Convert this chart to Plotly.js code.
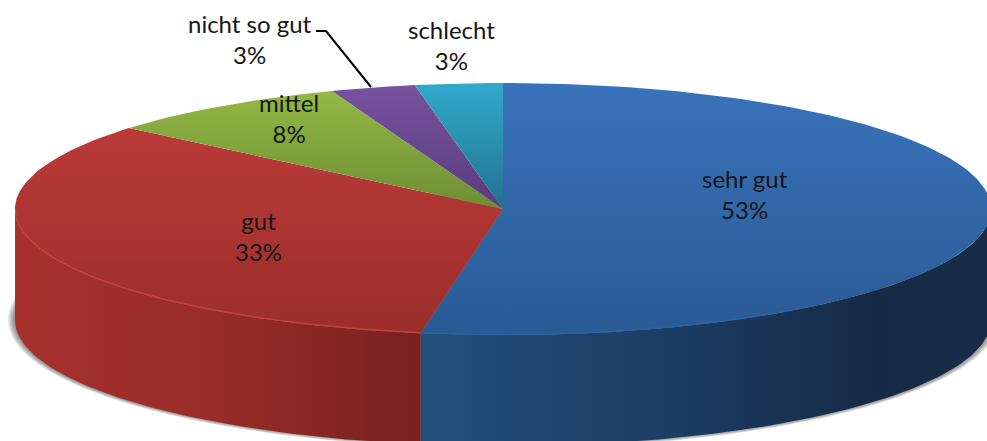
<!DOCTYPE html>
<html><head><meta charset="utf-8">
<script src="https://cdn.plot.ly/plotly-3.0.1.min.js"></script>
<style>html,body{margin:0;padding:0;background:#fff;overflow:hidden}#c{width:987px;height:441px}</style>
</head><body><div id="c"></div>
<script>
const categories = ['sehr gut','gut','mittel','nicht so gut','schlecht'];
const shares = [52.7, 33.4, 8.2, 2.8, 2.9];
const percentLabels = ['53%','33%','8%','3%','3%'];
const topLight = ['#3973bb','#ba3a38','#93b945','#7852a0','#31a9cb'];
const topDark  = ['#2a5a94','#9c2e2b','#6e8d34','#593c7c','#22728e'];
const sideScale = [
  [[0,'#234e7c'],[0.45,'#1c3c64'],[0.8,'#162a45'],[1,'#172c48']],
  [[0,'#a6312d'],[0.45,'#9a2d2a'],[0.78,'#862523'],[1,'#772220']]
];
const rimColors = ['#2c64a4','#c4423d'];
const labelX = [745,258,289,250,451];
const labelY = [194,236,118,39,45];

const cx = 503, cy = 209, rx = 488, ry = 126, depth = 111;
const px = t => cx + rx*Math.sin(t*Math.PI/180);
const py = t => cy - ry*Math.cos(t*Math.PI/180);
const arc = (a,b) => { const r=[]; const n=Math.max(2,Math.ceil(Math.abs(b-a)));
  for(let i=0;i<=n;i++) r.push(a+(b-a)*i/n); return r; };

const traces = [];
// soft shadow under the disc
for(let i=0;i<6;i++){
  const ts = arc(0,360);
  traces.push({x:ts.map(t=>cx+(rx+7-i*1.3)*Math.sin(t*Math.PI/180)),
    y:ts.map(t=>cy+depth+(ry+2.5-i*0.6)*(-Math.cos(t*Math.PI/180))),
    mode:'lines',fill:'toself',line:{width:0},fillcolor:'rgba(70,70,70,0.14)',hoverinfo:'skip'});
}
let start = 0; const sectors = [];
shares.forEach(s=>{ sectors.push([start,start+s*3.6]); start += s*3.6; });
// side walls (only the front half is visible)
sectors.forEach((sec,i)=>{
  const a=Math.max(sec[0],90), b=Math.min(sec[1],270);
  if(b<=a) return;
  const ts=arc(a,b), rev=ts.slice().reverse();
  traces.push({x:ts.map(px).concat(rev.map(px)),
    y:ts.map(py).concat(rev.map(t=>py(t)+depth)),
    mode:'lines',fill:'toself',line:{width:0},
    fillgradient:{type:'horizontal',colorscale:sideScale[i]},hoverinfo:'skip'});
});
// top faces
sectors.forEach((sec,i)=>{
  const ts=arc(sec[0],sec[1]);
  traces.push({x:[cx].concat(ts.map(px),[cx]),y:[cy].concat(ts.map(py),[cy]),
    mode:'lines',fill:'toself',line:{width:0},
    fillgradient:{type:'vertical',colorscale:[[0,topDark[i]],[1,topLight[i]]]},hoverinfo:'skip'});
});
// bevel highlight on the front rim
sectors.forEach((sec,i)=>{
  const a=Math.max(sec[0],i===0?140:90), b=Math.min(sec[1],268);
  if(b<=a) return;
  const ts=arc(a,b);
  traces.push({x:ts.map(px),y:ts.map(t=>py(t)-0.5),mode:'lines',
    line:{width:1.5,color:rimColors[i]},hoverinfo:'skip'});
});

const layout = {
  width:987,height:441,margin:{l:0,r:0,t:0,b:0},showlegend:false,
  paper_bgcolor:'#fff',plot_bgcolor:'#fff',
  xaxis:{range:[0,987],visible:false,fixedrange:true},
  yaxis:{range:[441,0],visible:false,fixedrange:true},
  shapes:[{type:'path',path:'M 316 31 L 326 31 L 371 87',line:{color:'#000',width:2}}],
  annotations:categories.map((c,i)=>({x:labelX[i],y:labelY[i],xref:'x',yref:'y',
    text:c+'<br>'+percentLabels[i],showarrow:false,align:'center',
    font:{family:'Lato, sans-serif',size:24,color:'#161616'}}))
};
Plotly.newPlot('c',traces,layout,{staticPlot:true,displayModeBar:false});
</script></body></html>
